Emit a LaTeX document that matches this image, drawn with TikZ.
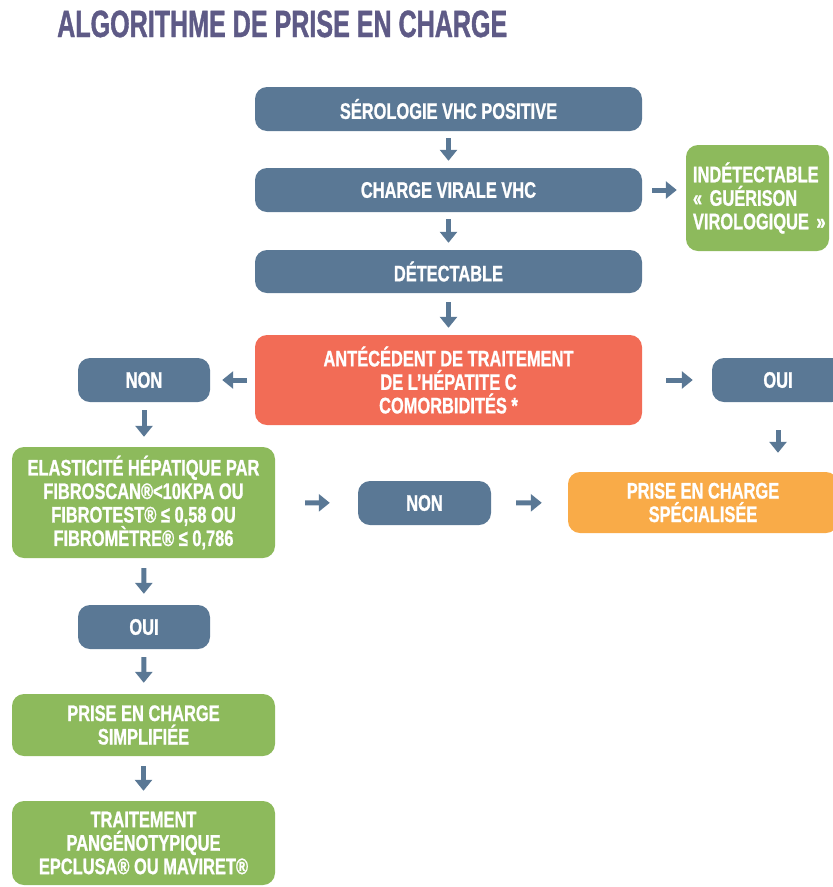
\documentclass[tikz,border=0pt]{standalone}
\usepackage{fontspec}
\setmainfont{Liberation Sans}[FakeStretch=0.73, BoldFeatures={FakeBold=1}]
\newfontfamily\titlefont{Liberation Sans}[FakeStretch=0.66, BoldFeatures={FakeBold=1}]
\usepackage{xcolor}
\usepackage{tikz}
\usetikzlibrary{arrows.meta,positioning}
\definecolor{vhcblue}{HTML}{5A7895}
\definecolor{vhcgreen}{HTML}{8DBA5C}
\definecolor{vhcred}{HTML}{F26C56}
\definecolor{vhcorange}{HTML}{F9AB48}
\definecolor{vhctitle}{HTML}{5E5A86}
\tikzset{
  box/.style={rounded corners=12pt, text=white, align=center, inner sep=0pt,
    font=\bfseries\fontsize{22.5}{23.5}\selectfont},
  bluebox/.style={box, fill=vhcblue},
  greenbox/.style={box, fill=vhcgreen},
  redbox/.style={box, fill=vhcred},
  orangebox/.style={box, fill=vhcorange},
  arr/.style={-{Triangle[width=17pt,length=11pt]}, line width=5pt, vhcblue,
    shorten <=7pt, shorten >=7pt}
}

\begin{document}
\begin{tikzpicture}[x=1pt,y=-1pt]
  % Frame
  \useasboundingbox (0,0) rectangle (833,887);
  \clip (0,0) rectangle (833,887);
  % Title
  \node[anchor=base west, inner sep=0pt, text=vhctitle,
    font=\titlefont\bfseries\fontsize{38}{40}\selectfont] (title) at (57,37)
    {ALGORITHME DE PRISE EN CHARGE};
  % Main column
  \node[bluebox, minimum width=387pt, minimum height=44pt] (sero) at (448.5,109)
    {SÉROLOGIE VHC POSITIVE};
  \node[bluebox, minimum width=387pt, minimum height=44pt] (charge) at (448.5,190)
    {CHARGE VIRALE VHC};
  \node[bluebox, minimum width=387pt, minimum height=43pt] (detect) at (448.5,271.5)
    {DÉTECTABLE};
  \node[redbox, minimum width=387pt, minimum height=90pt] (ante) at (448.5,380)
    {ANTÉCÉDENT DE TRAITEMENT\\DE L’HÉPATITE C\\COMORBIDITÉS *};
  \node[greenbox, align=left, text width=129pt, inner xsep=7pt, minimum height=106pt] (indet) at (757.5,198)
    {INDÉTECTABLE\\«~GUÉRISON\\VIROLOGIQUE~»};
  % Branches
  \node[bluebox, minimum width=132pt, minimum height=44pt] (nonA) at (144,380) {NON};
  \node[bluebox, minimum width=132pt, minimum height=44pt] (ouiA) at (778,380) {OUI};
  \node[greenbox, minimum width=263pt, minimum height=111pt] (elast) at (143.5,502.5)
    {ELASTICITÉ HÉPATIQUE PAR\\FIBROSCAN®<10KPA OU\\FIBROTEST® ≤ 0,58 OU\\FIBROMÈTRE® ≤ 0,786};
  \node[bluebox, minimum width=133pt, minimum height=44pt] (nonB) at (424.5,503) {NON};
  \node[orangebox, minimum width=270pt, minimum height=61pt] (spec) at (703,502.5)
    {PRISE EN CHARGE\\SPÉCIALISÉE};
  \node[bluebox, minimum width=132pt, minimum height=44pt] (ouiB) at (144,627) {OUI};
  \node[greenbox, minimum width=263pt, minimum height=62pt] (simpl) at (143.5,725)
    {PRISE EN CHARGE\\SIMPLIFIÉE};
  \node[greenbox, minimum width=263pt, minimum height=84pt] (trait) at (143.5,843)
    {TRAITEMENT\\PANGÉNOTYPIQUE\\EPCLUSA® OU MAVIRET®};
  % Arrows
  \draw[arr] (sero) -- (charge);
  \draw[arr] (charge) -- (detect);
  \draw[arr, shorten <=9pt] (detect) -- (ante);
  \draw[arr, shorten <=10pt, shorten >=9pt] (charge.east) -- (charge.east -| indet.west);
  \draw[arr, shorten <=8pt, shorten >=12pt] (ante) -- (nonA);
  \draw[arr, shorten <=24pt, shorten >=19pt] (ante) -- (ouiA);
  \draw[arr, shorten <=28pt, shorten >=19pt] (ouiA) -- (ouiA |- spec.north);
  \draw[arr, shorten <=8pt, shorten >=10pt] (nonA) -- (nonA |- elast.north);
  \draw[arr, shorten <=30pt, shorten >=28pt] (elast) -- (nonB);
  \draw[arr, shorten <=25pt, shorten >=26pt] (nonB) -- (spec);
  \draw[arr, shorten <=10pt, shorten >=11pt] (elast) -- (ouiB);
  \draw[arr, shorten <=8pt, shorten >=11pt] (ouiB) -- (simpl);
  \draw[arr, shorten <=10pt, shorten >=10pt] (simpl) -- (trait);
\end{tikzpicture}
\end{document}
